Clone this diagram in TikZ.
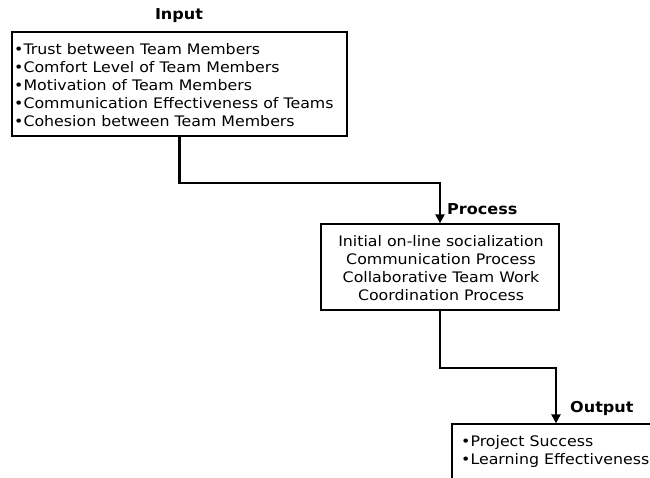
\documentclass[tikz,border=0pt]{standalone}
\usepackage{fontspec}
\setmainfont{DejaVu Sans}[FakeStretch=1.09]
\newfontfamily\lblfont{DejaVu Sans Bold}[FakeStretch=1.07]
\usetikzlibrary{arrows.meta}
\begin{document}
\begin{tikzpicture}[x=1pt,y=-1pt,
  box/.style={draw=black,line width=1.3pt,rectangle,inner sep=0pt},
  txt/.style={font=\fontsize{14.5}{18}\selectfont,inner sep=0pt},
  lbl/.style={font=\lblfont\fontsize{15}{16}\selectfont,inner sep=0pt},
  conn/.style={line width=2.2pt,-{Triangle[length=9pt,width=9pt]}}]
\useasboundingbox (0,0) rectangle (650,478);
\clip (0,0) rectangle (650,478);
\fill[white] (0,0) rectangle (650,478);
% boxes
\node[box,minimum width=335pt,minimum height=104pt] (input) at (179.5,84) {};
\node[box,minimum width=238pt,minimum height=86pt] (process) at (440,267) {};
\node[box,minimum width=208pt,minimum height=80pt] (output) at (556,464) {};
% texts
\node[txt,anchor=west,align=left] (intext) at (14,85) {•Trust between Team Members\\•Comfort Level of Team Members\\•Motivation of Team Members\\•Communication Effectiveness of Teams\\•Cohesion between Team Members};
\node[txt,align=center] (proctext) at (441,268) {Initial on-line socialization\\Communication Process\\Collaborative Team Work\\Coordination Process};
\node[txt,anchor=north west,align=left] (outtext) at (461,435) {•Project Success\\•Learning Effectiveness};
% labels
\node[lbl] (inlbl) at (179,16) {Input};
\node[lbl,anchor=west] (proclbl) at (447,209) {Process};
\node[lbl,anchor=west] (outlbl) at (570,408) {Output};
% connectors
\draw[conn] (input.south) -- ++(0,46) -| (process.north);
\draw[conn] (process.south) -- ++(0,57) -| (output.north);
\end{tikzpicture}
\end{document}
